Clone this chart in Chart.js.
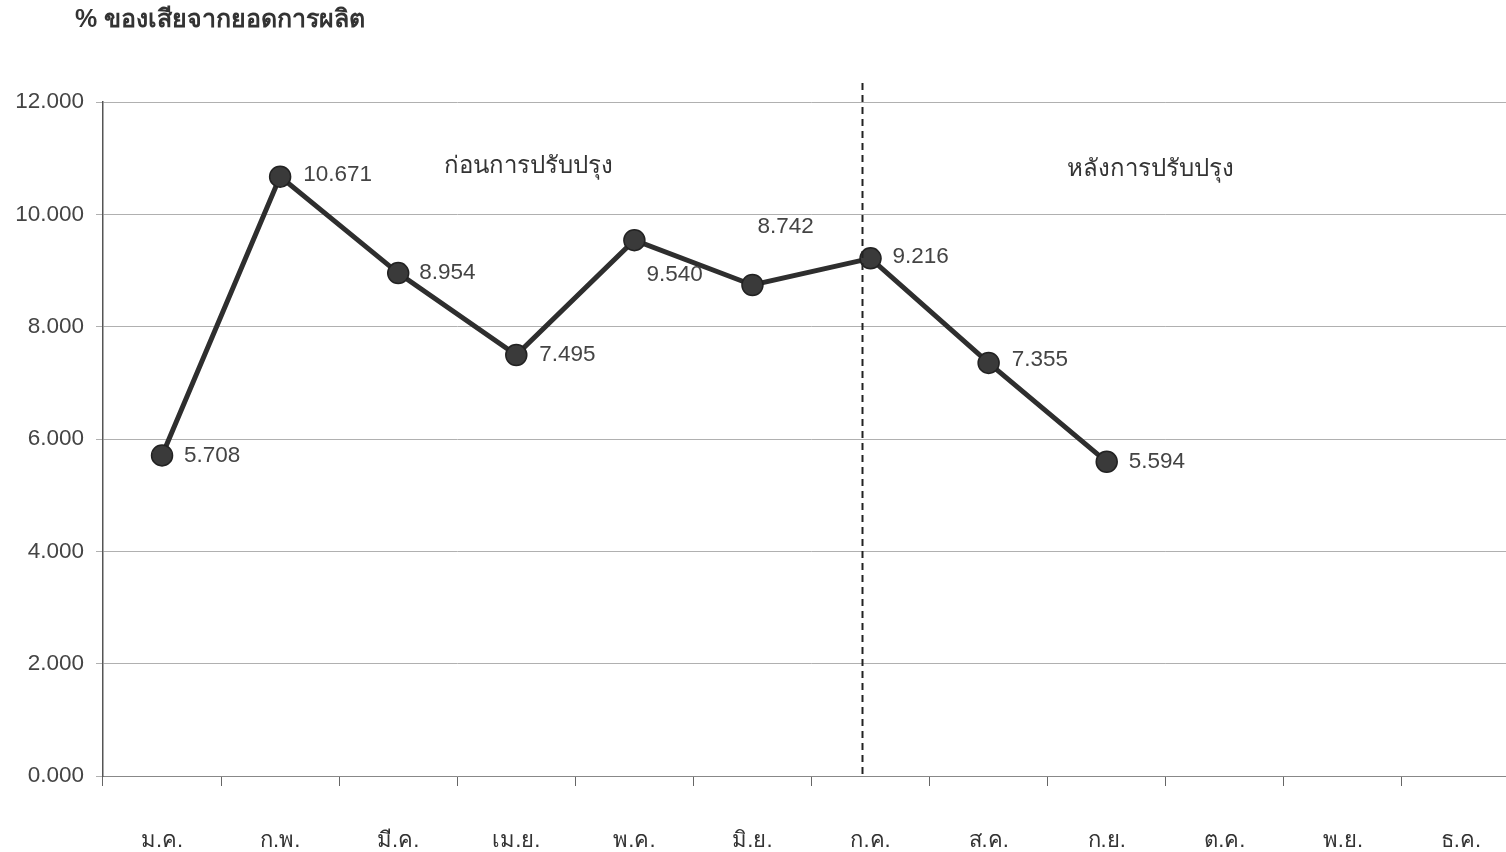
<!DOCTYPE html>
<html>
<head>
<meta charset="utf-8">
<script src="https://cdn.jsdelivr.net/npm/chart.js@4"></script>
<style>
  html, body { margin: 0; padding: 0; background: #fff; overflow: hidden; }
  #wrap { position: relative; width: 1532px; height: 852px; }
  canvas { display: block; }
</style>
</head>
<body>
<div id="wrap"><canvas id="c" width="1532" height="852"></canvas></div>
<script>
// Monthly defect share of total production (%)
const months = ['ม.ค.', 'ก.พ.', 'มี.ค.', 'เม.ย.', 'พ.ค.', 'มิ.ย.', 'ก.ค.', 'ส.ค.', 'ก.ย.', 'ต.ค.', 'พ.ย.', 'ธ.ค.'];
const defectPct = [5.708, 10.671, 8.954, 7.495, 9.540, 8.742, 9.216, 7.355, 5.594, null, null, null];
const yTicks = [0, 2, 4, 6, 8, 10, 12];
const chartTitle = '% ของเสียจากยอดการผลิต';
const beforeLabel = 'ก่อนการปรับปรุง';
const afterLabel = 'หลังการปรับปรุง';
const dividerMonth = 6; // improvement starts in July

// label placement per point: [dx, dy] from the marker
const labelOffsets = [[22, 0], [23, -2], [21, 0], [23, 0], [12, 35], [5, -58], [22, -2], [23, -3], [22, 0]];

const FONT = "'Liberation Sans', Arial, sans-serif";

const overlay = {
  id: 'overlay',
  afterDatasetsDraw(chart) {
    const { ctx, chartArea, scales } = chart;
    const x = scales.x, y = scales.y;
    ctx.save();
    // dashed divider before/after improvement
    const dx = Math.round(x.getPixelForValue(dividerMonth) - 9) + 0.5;
    ctx.strokeStyle = '#222';
    ctx.lineWidth = 2;
    ctx.setLineDash([7, 5]);
    ctx.beginPath();
    ctx.moveTo(dx, chartArea.top - 19);
    ctx.lineTo(dx, chartArea.bottom);
    ctx.stroke();
    ctx.setLineDash([]);

    // value labels
    ctx.fillStyle = '#444';
    ctx.font = '22.5px ' + FONT;
    ctx.textAlign = 'left';
    ctx.textBaseline = 'middle';
    defectPct.forEach((v, i) => {
      if (v === null) return;
      const off = labelOffsets[i] || [22, 0];
      const px = x.getPixelForValue(i) + off[0];
      const py = y.getPixelForValue(v) + off[1];
      ctx.fillText(v.toFixed(3), px, py);
    });

    // period captions
    ctx.font = '24px ' + FONT;
    ctx.textAlign = 'center';
    ctx.fillStyle = '#333';
    ctx.fillText(beforeLabel, (x.getPixelForValue(3) + x.getPixelForValue(4)) / 2 - 47, y.getPixelForValue(10.85));
    ctx.fillText(afterLabel, (x.getPixelForValue(8) + x.getPixelForValue(9)) / 2 - 15, y.getPixelForValue(10.8));

    // axis title
    ctx.font = 'bold 25px ' + FONT;
    ctx.textAlign = 'left';
    ctx.fillStyle = '#333';
    ctx.fillText(chartTitle, 75, 20);
    ctx.restore();
  }
};

new Chart(document.getElementById('c'), {
  type: 'line',
  data: {
    labels: months,
    datasets: [{
      data: defectPct,
      borderColor: '#2e2e2e',
      borderWidth: 5,
      pointRadius: 10.5,
      pointHoverRadius: 10.5,
      pointBackgroundColor: '#3a3a3a',
      pointBorderColor: '#222',
      pointBorderWidth: 1.5,
      spanGaps: false,
      tension: 0
    }]
  },
  options: {
    responsive: false,
    maintainAspectRatio: false,
    animation: false,
    events: [],
    layout: { padding: { top: 102, right: 0, left: 0, bottom: 0 } },
    plugins: {
      legend: { display: false },
      tooltip: { enabled: false },
      title: { display: false }
    },
    scales: {
      x: {
        type: 'category',
        offset: true,
        border: { display: true, color: '#888', width: 1 },
        grid: { offset: true, drawOnChartArea: false, drawTicks: true, tickLength: 10, color: '#666' },
        ticks: { color: '#333', padding: 42, font: { size: 22, family: FONT }, maxRotation: 0, autoSkip: false },
        afterFit(s) { s.height = 76; }
      },
      y: {
        min: 0,
        max: 12,
        afterBuildTicks(s) { s.ticks = yTicks.map(v => ({ value: v })); },
        border: { display: true, color: '#555', width: 1.5 },
        grid: { color: '#b0b0b0', lineWidth: 1, tickLength: 7 },
        ticks: {
          color: '#444',
          padding: 12,
          font: { size: 22.5, family: FONT },
          callback: v => Number(v).toFixed(3)
        },
        afterFit(s) { s.width = 103; }
      }
    }
  },
  plugins: [overlay]
});
</script>
</body>
</html>
